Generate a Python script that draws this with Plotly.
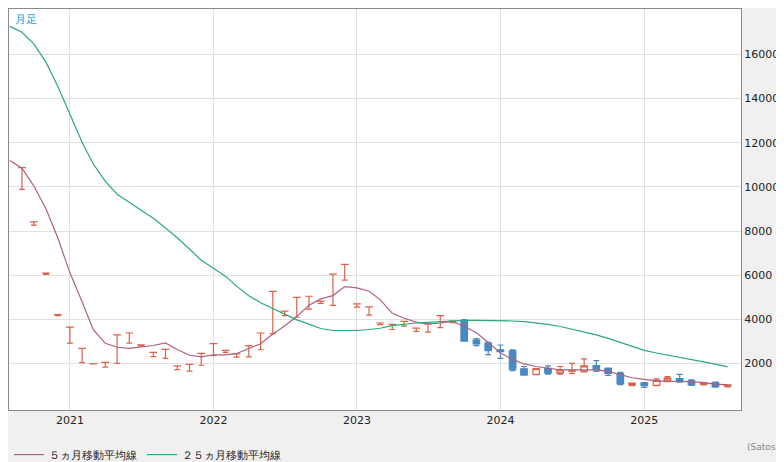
import plotly.graph_objects as go
import pandas as pd

dates = pd.date_range("2020-09-01", periods=60, freq="MS")

opens = [10870, 8417, 6100, 4218, 3650, 2686, 1986, 2058, 3300, 3386,
         2844, 2511, 2643, 1900, 1970, 2468, 2906, 2599, 2438, 2818,
         3386, 5268, 4376, 4995, 5050, 4830, 6055, 6493, 4700, 4568,
         3838, 3780, 3910, 3606, 3795, 4173, 3900, 3910, 3064, 2919,
         2628, 2570, 1767, 1519, 1781, 1577, 1660, 1664, 1913, 1781,
         1548, 1050, 1123, 1021, 1225, 1327, 1225, 1065, 1137, 992]
highs = [10870, 8417, 6100, 4218, 3650, 2686, 1986, 2058, 3300, 3386,
         2844, 2511, 2643, 1900, 1970, 2468, 2906, 2599, 2438, 2818,
         3386, 5268, 4376, 4995, 5050, 4830, 6055, 6493, 4700, 4568,
         3838, 3780, 3910, 3606, 3795, 4173, 3925, 3998, 3130, 2960,
         2844, 2620, 1869, 1780, 1900, 1870, 2013, 2213, 2132, 1800,
         1600, 1123, 1140, 1313, 1415, 1517, 1260, 1140, 1160, 1040]
lows = [9889, 8270, 6040, 4170, 2932, 2044, 1986, 1838, 2013, 2932,
        2800, 2320, 2233, 1724, 1664, 1926, 2363, 2505, 2293, 2307,
        2628, 3356, 4170, 4100, 4463, 4729, 4638, 5780, 4560, 4200,
        3763, 3545, 3694, 3460, 3430, 3633, 3860, 3020, 2818, 2408,
        2233, 1679, 1480, 1500, 1520, 1520, 1560, 1620, 1650, 1462,
        1050, 1000, 920, 1000, 1180, 1160, 1010, 1040, 940, 950]
closes = [10871, 8418, 6101, 4219, 3651, 2687, 1987, 2059, 3301, 3387,
          2845, 2512, 2644, 1901, 1971, 2469, 2907, 2600, 2439, 2819,
          3387, 5269, 4377, 4996, 5051, 4831, 6056, 6494, 4701, 4569,
          3839, 3781, 3911, 3607, 3796, 4174, 3925, 3020, 2889, 2583,
          2540, 1750, 1490, 1767, 1577, 1710, 1690, 1900, 1723, 1548,
          1094, 1123, 1006, 1240, 1342, 1196, 1050, 1123, 962, 1035]

ma_dates = pd.date_range("2020-08-01", periods=61, freq="MS")
ma5 = [11200, 10850, 10050, 9013, 7700, 6110, 4800, 3545, 2920, 2740,
       2690, 2740, 2820, 2935, 2640, 2380, 2305, 2400, 2400, 2460,
       2680, 2900, 3340, 3700, 4130, 4640, 4930, 5080, 5490, 5430,
       5280, 4900, 4275, 4055, 3880, 3790, 3840, 3910, 3690, 3400,
       2960, 2480, 2190, 1985, 1870, 1780, 1720, 1720, 1720, 1720,
       1650, 1490, 1360, 1290, 1215, 1200, 1200, 1185, 1140, 1070, 1040]
ma25 = [17270, 17000, 16480, 15650, 14560, 13330, 12020, 11050, 10255, 9670,
        9310, 8940, 8580, 8140, 7700, 7190, 6680, 6320, 5950, 5510,
        5075, 4756, 4490, 4230, 3980, 3790, 3590, 3500, 3500, 3500,
        3545, 3600, 3720, 3790, 3840, 3870, 3910, 3940, 3960, 3960,
        3960, 3950, 3930, 3900, 3850, 3780, 3680, 3560, 3430, 3300,
        3140, 2960, 2780, 2600, 2480, 2380, 2280, 2180, 2080, 1980, 1850]

red = "#d9634a"
blue = "#4a88c0"

fig = go.Figure()
fig.add_trace(go.Candlestick(
    x=dates, open=opens, high=highs, low=lows, close=closes,
    increasing=dict(line=dict(color=red, width=1.2), fillcolor="white"),
    decreasing=dict(line=dict(color=blue, width=1.2), fillcolor=blue),
    whiskerwidth=0.9, showlegend=False, hoverinfo="skip"))
fig.add_trace(go.Scatter(x=ma_dates, y=ma5, mode="lines", name="５ヵ月移動平均線",
                         line=dict(color="#b0607f", width=1.2)))
fig.add_trace(go.Scatter(x=ma_dates, y=ma25, mode="lines", name="２５ヵ月移動平均線",
                         line=dict(color="#2aaa78", width=1.2)))

fig.update_layout(
    width=784, height=462,
    margin=dict(l=1, r=51, t=1, b=47),
    paper_bgcolor="#f0f0f0", plot_bgcolor="white",
    font=dict(family="DejaVu Sans", size=11, color="#222"),
    boxgap=0.15,
    xaxis=dict(range=["2020-07-30", "2025-09-04"], rangeslider=dict(visible=False),
               tickvals=["2021-01-01", "2022-01-01", "2023-01-01", "2024-01-01", "2025-01-01"],
               ticktext=["2021", "2022", "2023", "2024", "2025"],
               showgrid=True, gridcolor="#e0e0e0", ticks="", showline=True,
               linecolor="#888", mirror=True),
    yaxis=dict(side="right", range=[-100, 18056], tickvals=[2000, 4000, 6000, 8000, 10000, 12000, 14000, 16000],
               tickformat="d",
               showgrid=True, gridcolor="#e0e0e0", ticks="", showline=True,
               linecolor="#888", mirror=True, zeroline=False),
    legend=dict(orientation="h", x=0.0, y=-0.075, xanchor="left", yanchor="top",
                bgcolor="rgba(0,0,0,0)", font=dict(size=11)),
    annotations=[
        dict(text="月足", xref="paper", yref="paper", x=0.005, y=0.995,
             xanchor="left", yanchor="top", showarrow=False, font=dict(color="#1aa0e0", size=11)),
        dict(text="(Satoshi)", xref="paper", yref="paper", x=1.066, y=-0.075,
             xanchor="right", yanchor="top", showarrow=False, font=dict(color="#888", size=9)),
    ])

fig.write_html("out.html")
